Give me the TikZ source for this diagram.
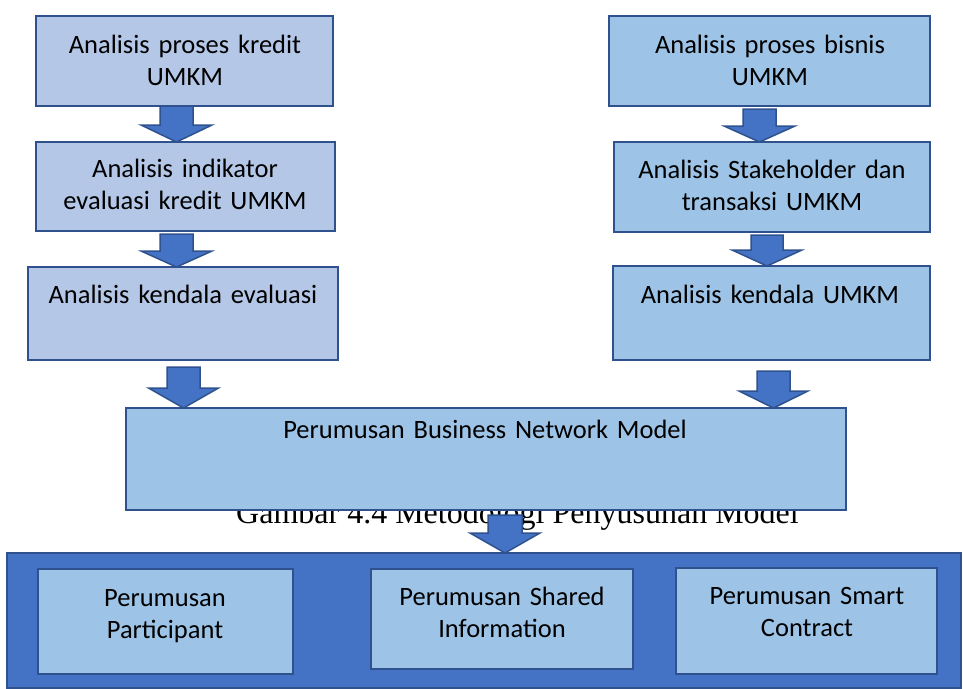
\documentclass[tikz,border=0pt]{standalone}
\usepackage{fontspec}
\setmainfont{Carlito}[WordSpace=0.7]
\newfontfamily\capfont{Liberation Serif}
\usetikzlibrary{calc}

\definecolor{boxlilac}{HTML}{B4C7E7}
\definecolor{boxblue}{HTML}{9DC3E6}
\definecolor{deepblue}{HTML}{4472C4}
\definecolor{edgeblue}{HTML}{2F528F}

\tikzset{
  panel/.style={draw=edgeblue, line width=2pt, inner sep=0pt, outer sep=0pt,
    anchor=north west},
  txt/.style={anchor=base, inner sep=0pt, text width=330pt, align=center,
    font=\fontsize{26.5}{32}\selectfont},
  barrow/.style={fill=deepblue, draw=edgeblue, line width=1.5pt, line join=miter},
}

% block arrow from the bottom of #1 down to the top of #2
% #3 centre x, #4 shaft half width, #5 head half width, #6 head length, #7 gap under #1
\newcommand{\blockarrow}[7]{%
  \draw[barrow] let \p1=(#1.south), \p2=(#2.north) in
    ({#3pt-#4pt},{\y1-#7pt}) -- ({#3pt+#4pt},{\y1-#7pt})
    -- ({#3pt+#4pt},{\y2+#6pt}) -- ({#3pt+#5pt},{\y2+#6pt})
    -- ({#3pt},{\y2}) -- ({#3pt-#5pt},{\y2+#6pt})
    -- ({#3pt-#4pt},{\y2+#6pt}) -- cycle;}

\begin{document}
\begin{tikzpicture}[x=1pt,y=-1pt]
\useasboundingbox (0,0) rectangle (963,688);

% caption sits behind the model box
\node[anchor=base, inner sep=0pt, font=\capfont\fontsize{32}{38}\selectfont]
  (cap) at (517.5,523) {Gambar 4.4 Metodologi Penyusunan Model};

% left column
\node[panel, fill=boxlilac, minimum width=297pt, minimum height=90pt] (b1) at (36,16) {};
\node[panel, fill=boxlilac, minimum width=299pt, minimum height=89pt] (b2) at (36,142) {};
\node[panel, fill=boxlilac, minimum width=310pt, minimum height=93pt] (b3) at (28,267) {};
\node[txt] (tb1) at (185,53) {Analisis proses kredit\\UMKM};
\node[txt] (tb2) at (185,177) {Analisis indikator\\evaluasi kredit UMKM};
\node[txt] (tb3) at (183,303) {Analisis kendala evaluasi};

% right column
\node[panel, fill=boxblue, minimum width=321pt, minimum height=90pt] (r1) at (609,16) {};
\node[panel, fill=boxblue, minimum width=316pt, minimum height=90pt] (r2) at (614,142) {};
\node[panel, fill=boxblue, minimum width=317pt, minimum height=94pt] (r3) at (613,266) {};
\node[txt] (tr1) at (770,53) {Analisis proses bisnis\\UMKM};
\node[txt] (tr2) at (772,178) {Analisis Stakeholder dan\\transaksi UMKM};
\node[txt] (tr3) at (770,303) {Analisis kendala UMKM};

% business network model
\node[panel, fill=boxblue, minimum width=720pt, minimum height=102pt] (bn) at (126,408) {};
\node[txt, text width=600pt] (tbn) at (485,438) {Perumusan Business Network Model};

% bottom band with the three formulation steps
\node[panel, fill=deepblue, minimum width=954pt, minimum height=135pt] (band) at (7,553) {};
\node[panel, fill=boxblue, minimum width=255pt, minimum height=105pt] (pa) at (38,569) {};
\node[panel, fill=boxblue, minimum width=262pt, minimum height=100pt] (pb) at (371,569) {};
\node[panel, fill=boxblue, minimum width=261pt, minimum height=106pt] (pc) at (676,568) {};
\node[txt, text width=250pt] (tpa) at (165,606) {Perumusan\\Participant};
\node[txt, text width=250pt] (tpb) at (502,605) {Perumusan Shared\\Information};
\node[txt, text width=250pt] (tpc) at (807,604) {Perumusan Smart\\Contract};

% block arrows
\blockarrow{b1}{b2}{176.5}{16.5}{35.5}{17}{0}
\blockarrow{b2}{b3}{176.5}{16.5}{35.5}{16}{3}
\blockarrow{b3}{bn}{183.5}{16.5}{35}{20}{7}
\blockarrow{r1}{r2}{759.5}{16.5}{35.5}{16}{3}
\blockarrow{r2}{r3}{767}{16}{35}{16}{3}
\blockarrow{r3}{bn}{773.5}{16.5}{34.5}{17}{11}
\blockarrow{bn}{band}{505}{17}{35}{20}{5}
\end{tikzpicture}
\end{document}
